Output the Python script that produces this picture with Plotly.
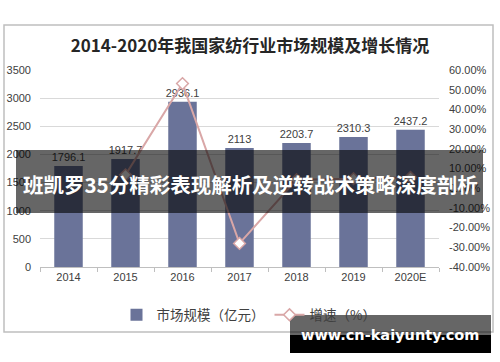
import plotly.graph_objects as go

years = ["2014", "2015", "2016", "2017", "2018", "2019", "2020E"]
market_size = [1796.1, 1917.7, 2936.1, 2113, 2203.7, 2310.3, 2437.2]
growth_years = ["2015", "2016", "2017", "2018", "2019", "2020E"]
growth_rate = [6.77, 53.11, -28.03, 4.29, 4.84, 5.50]
left_ticks = [0, 500, 1000, 1500, 2000, 2500, 3000, 3500]
right_ticks = [-40, -30, -20, -10, 0, 10, 20, 30, 40, 50, 60]

title_text = "2014-2020年我国家纺行业市场规模及增长情况"
banner_text = "班凯罗35分精彩表现解析及逆转战术策略深度剖析"
watermark_text = "www.cn-kaiyunty.com"

W, H = 500, 362
L, R, T, B = 40, 439, 70, 267


def px(x):
    return (x - L) / (R - L)


def py(y):
    return (B - y) / (B - T)


BAR_COLOR = "#6a7399"
LINE_COLOR = "#d9a7a7"
TXT = "#404040"
CJK = "Noto Sans CJK SC"
TICKFONT = dict(family="Liberation Sans, Arial", size=11, color=TXT)

fig = go.Figure()
fig.add_trace(go.Bar(
    x=years, y=market_size, name="市场规模（亿元）",
    marker=dict(color=BAR_COLOR, line=dict(width=0)),
    width=0.5,
    text=[f"{v:g}" for v in market_size], textposition="outside",
    constraintext="none",
    textfont=dict(family="Liberation Sans, Arial", size=11, color=TXT),
    cliponaxis=False,
))
fig.add_trace(go.Scatter(
    x=growth_years, y=growth_rate, name="增速（%）", yaxis="y2",
    mode="lines+markers",
    line=dict(color=LINE_COLOR, width=2),
    marker=dict(symbol="diamond", size=9, color="white",
                line=dict(color=LINE_COLOR, width=1.5)),
    cliponaxis=False,
))

shapes = [
    dict(type="rect", xref="paper", yref="paper",
         x0=px(4), x1=px(493), y0=py(332), y1=py(25),
         line=dict(color="#bfbfbf", width=1.5), fillcolor="rgba(0,0,0,0)", layer="below"),
    dict(type="rect", xref="paper", yref="paper",
         x0=px(16), x1=px(483), y0=py(213), y1=py(150),
         line=dict(width=0), fillcolor="rgba(0,0,0,0.6)", layer="above"),
    dict(type="rect", xref="paper", yref="paper",
         x0=px(290), x1=px(491), y0=py(353), y1=py(315),
         line=dict(width=0), fillcolor="rgba(0,0,0,0.6)", layer="above"),
    dict(type="rect", xref="paper", yref="paper",
         x0=px(290), x1=px(491), y0=py(353), y1=py(335),
         line=dict(width=0), fillcolor="rgba(0,0,0,1)", layer="above"),
]

annotations = [
    dict(text=banner_text, xref="paper", yref="paper", x=px(250), y=py(184),
         showarrow=False, xanchor="center", yanchor="middle",
         font=dict(family=CJK, size=20.5, color="white", weight="bold")),
    dict(text=watermark_text, xref="paper", yref="paper", x=px(390), y=py(335),
         showarrow=False, xanchor="center", yanchor="middle",
         font=dict(family="DejaVu Sans, Liberation Sans", size=14.5, color="white", weight="bold")),
]

fig.update_layout(
    width=W, height=H,
    margin=dict(l=L, r=W - R, t=T, b=H - B, autoexpand=False),
    paper_bgcolor="white", plot_bgcolor="white",
    title=dict(text=title_text, x=0.5, xref="container", y=1 - 46 / H, yref="container",
               xanchor="center", yanchor="middle",
               font=dict(family=CJK, size=17, color="#262626", weight="bold")),
    xaxis=dict(type="category", showgrid=False, showline=True, linecolor="#bfbfbf",
               ticks="outside", ticklen=4, tickcolor="#bfbfbf", tickson="boundaries",
               tickfont=TICKFONT, zeroline=False, automargin=False),
    yaxis=dict(range=[0, 3500], tickvals=left_ticks, ticktext=[str(v) for v in left_ticks],
               showgrid=True, gridcolor="#d9d9d9",
               zeroline=False, showline=False, ticks="", ticklabelstandoff=8,
               tickfont=TICKFONT, automargin=False),
    yaxis2=dict(range=[-40, 60], overlaying="y", side="right",
                tickvals=right_ticks, ticktext=[f"{v:.2f}%" for v in right_ticks],
                showgrid=False, zeroline=False, showline=False, ticks="",
                ticklabelstandoff=9, tickfont=TICKFONT, automargin=False),
    legend=dict(orientation="h", x=px(249), xanchor="center", y=py(315), yanchor="middle",
                font=dict(family=CJK, size=13.5, color=TXT), bgcolor="rgba(0,0,0,0)",
                itemwidth=30),
    showlegend=True,
    shapes=shapes,
    annotations=annotations,
)

fig.write_html("out.html", config={"displayModeBar": False},
               post_script="document.body.style.margin='0px';document.body.style.overflow='hidden';")
